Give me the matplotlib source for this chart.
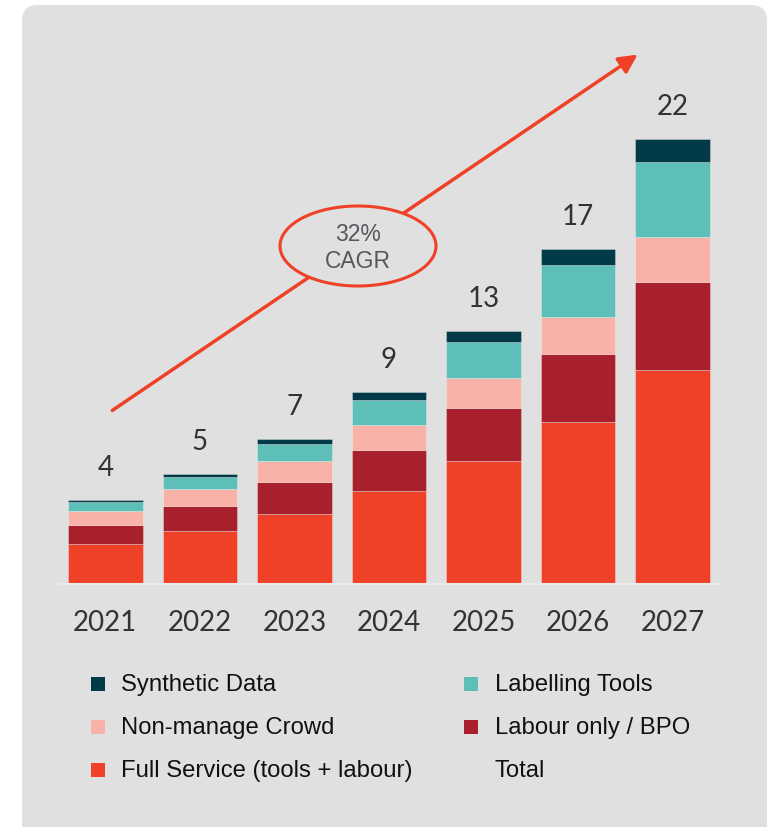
import numpy as np
import matplotlib
matplotlib.use("Agg")
from matplotlib import pyplot as plt
from matplotlib.patches import FancyBboxPatch, Ellipse, FancyArrowPatch, Rectangle
from matplotlib.transforms import IdentityTransform

years = ["2021", "2022", "2023", "2024", "2025", "2026", "2027"]
full_service = [1.96, 2.62, 3.46, 4.60, 6.08, 7.99, 10.58]
labour_bpo = [0.97, 1.24, 1.60, 2.03, 2.60, 3.39, 4.34]
non_manage_crowd = [0.68, 0.84, 1.01, 1.24, 1.50, 1.81, 2.22]
labelling_tools = [0.42, 0.59, 0.87, 1.24, 1.78, 2.59, 3.71]
synthetic_data = [0.12, 0.15, 0.25, 0.38, 0.54, 0.79, 1.15]
total_labels = ["4", "5", "7", "9", "13", "17", "22"]
cagr_text = "32%\nCAGR"

series = [
    ("Full Service (tools + labour)", full_service, "#EF4127"),
    ("Labour only / BPO", labour_bpo, "#A8202C"),
    ("Non-manage Crowd", non_manage_crowd, "#F8B2A8"),
    ("Labelling Tools", labelling_tools, "#5EBFB9"),
    ("Synthetic Data", synthetic_data, "#023A47"),
]

W, H = 776, 828
bg = "#E0E0E0"
num_font = "Lato"
txt_font = "Liberation Sans"

fig = plt.figure(figsize=(W / 100, H / 100), dpi=100)
fig.patch.set_facecolor("white")

# grey rounded panel behind everything
panel = FancyBboxPatch((22, -30), 745, 822 + 30, boxstyle="round,pad=0,rounding_size=16",
                       transform=IdentityTransform(), facecolor=bg, edgecolor="none", zorder=-5)
fig.add_artist(panel)

ax = fig.add_axes([58 / W, (H - 585) / H, 662 / W, 545 / H])
ax.set_facecolor("none")

x = np.arange(len(years))
bottom = np.zeros(len(years))
for name, vals, color in series:
    ax.bar(x, vals, width=0.79, bottom=bottom, color=color,
           edgecolor=(1, 1, 1, 0.35), linewidth=0.6)
    bottom += np.array(vals)

for xi, tot, lab in zip(x, bottom, total_labels):
    ax.annotate(lab, (xi, tot), xytext=(0, 18), textcoords="offset points",
                ha="center", va="baseline", fontsize=20, color="#333333", family=num_font)

ax.set_xlim(-0.5, len(years) - 0.5)
ax.set_ylim(0, 545 / 20.23)
ax.set_xticks(x)
ax.set_xticklabels(years, fontsize=20, color="#333333", family=num_font)
ax.tick_params(axis="x", length=0, pad=18)
ax.set_yticks([])
for s in ["top", "left", "right"]:
    ax.spines[s].set_visible(False)
ax.spines["bottom"].set_color("#EAEAEA")
ax.spines["bottom"].set_linewidth(1.5)

# CAGR arrow and ellipse
arrow = FancyArrowPatch((110, H - 413), (640, H - 54), transform=IdentityTransform(),
                        arrowstyle="-|>", mutation_scale=28, color="#EF4127", lw=2.5, zorder=3)
fig.add_artist(arrow)
ell = Ellipse((358, H - 247), 156, 80, transform=IdentityTransform(),
              facecolor=bg, edgecolor="#EF4127", lw=2.2, zorder=4)
fig.add_artist(ell)
fig.text(358 / W, 1 - 248 / H, cagr_text, ha="center", va="center", fontsize=16.5,
         color="#55595e", family=txt_font, linespacing=1.2, zorder=5)

# legend, two columns
legend_items = [
    (series[4][0], series[4][2]), (series[3][0], series[3][2]),
    (series[2][0], series[2][2]), (series[1][0], series[1][2]),
    (series[0][0], series[0][2]), ("Total", None),
]
col_sq = [91, 464]
col_txt = [121, 495]
rows = [685, 728, 771]
for i, (name, color) in enumerate(legend_items):
    c, r = i % 2, i // 2
    yc = rows[r]
    if color is not None:
        fig.add_artist(Rectangle((col_sq[c], H - yc - 7), 14, 14, transform=IdentityTransform(),
                                 facecolor=color, edgecolor="none"))
    fig.text(col_txt[c] / W, 1 - yc / H, name, ha="left", va="center", fontsize=17.2,
             color="#111111", family=txt_font)

fig.savefig("out.png", dpi=100)
